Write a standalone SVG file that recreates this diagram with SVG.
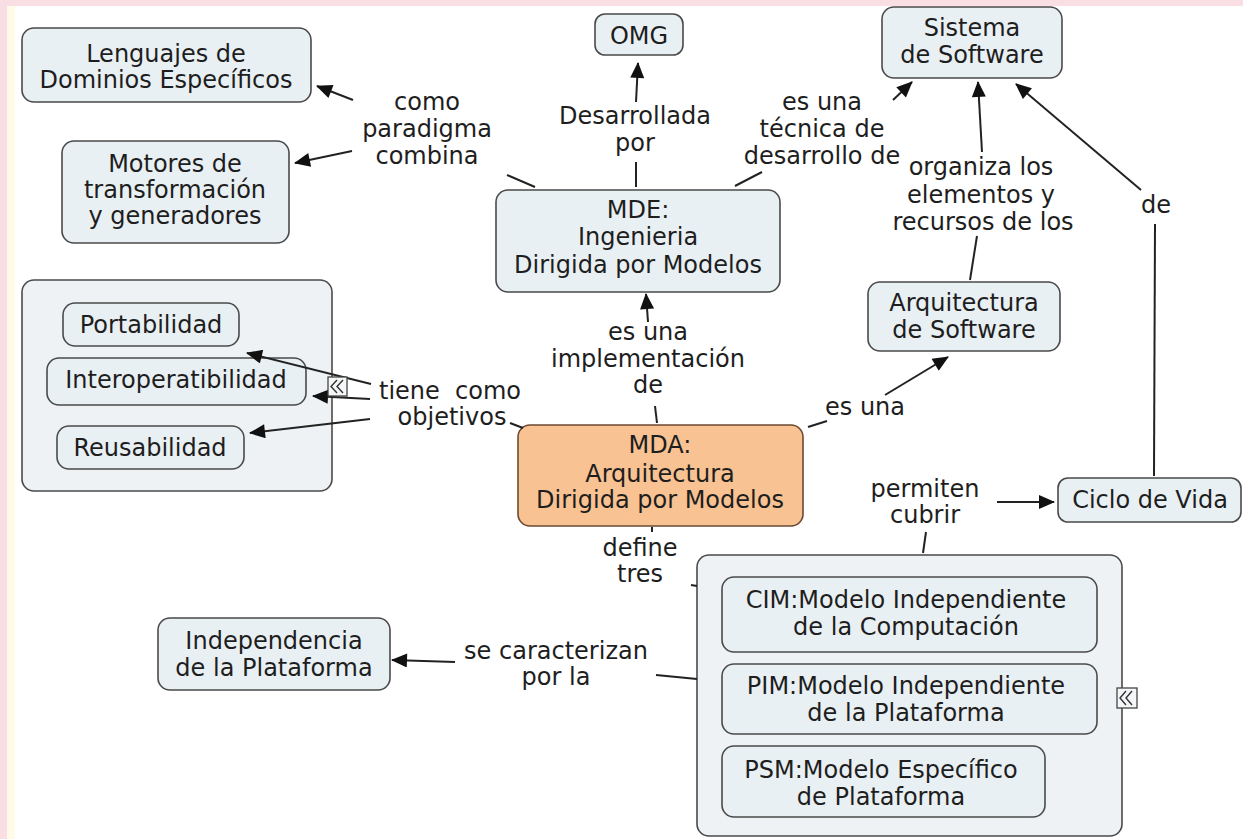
<svg xmlns="http://www.w3.org/2000/svg" width="1243" height="839" viewBox="0 0 1243 839">
<defs>
<style>
.n{fill:#e9f0f3;stroke:#4a4a4a;stroke-width:1.6}
.g{fill:#eef2f5;stroke:#4a4a4a;stroke-width:1.6}
.mda{fill:#f9c292;stroke:#6b4a30;stroke-width:1.6}
text{font-family:"DejaVu Sans","Verdana",sans-serif;font-size:24px;fill:#1e1e1e;text-anchor:middle}
.c line{stroke:#222;stroke-width:2}
.icon{fill:#f4f6f7;stroke:#444;stroke-width:1.3}
.chev{fill:none;stroke:#333;stroke-width:1.4}
</style>
<marker id="ah" viewBox="0 0 16 14" refX="15" refY="7" markerWidth="17" markerHeight="14" markerUnits="userSpaceOnUse" orient="auto">
<path d="M0,0 L16,7 L0,14 Z" fill="#111"/>
</marker>
</defs>
<rect x="0" y="0" width="1243" height="839" fill="#ffffff"/>
<rect x="0" y="0" width="1243" height="6" fill="#f9dfe3"/>
<rect x="0" y="0" width="7" height="839" fill="#f9dfe3"/>
<rect x="7" y="6" width="8" height="833" fill="#fffbe8"/>

<g id="lbl-como">
<text x="427" y="110">como</text>
<text x="427" y="137">paradigma</text>
<text x="427" y="164">combina</text>
</g>
<g id="lbl-desarrollada">
<text x="635" y="124">Desarrollada</text>
<text x="635" y="151">por</text>
</g>
<g id="lbl-tecnica">
<text x="822" y="110">es una</text>
<text x="822" y="137">técnica de</text>
<text x="822" y="164">desarrollo de</text>
</g>
<g id="lbl-organiza">
<text x="981" y="175">organiza los</text>
<text x="981" y="203">elementos y</text>
<text x="983" y="230">recursos de los</text>
</g>
<g id="lbl-de"><text x="1156" y="213">de</text></g>
<g id="lbl-implementacion">
<text x="648" y="340">es una</text>
<text x="648" y="367">implementación</text>
<text x="648" y="393">de</text>
</g>
<g id="lbl-objetivos">
<text x="450" y="399" xml:space="preserve">tiene  como</text>
<text x="452" y="425">objetivos</text>
</g>
<g id="lbl-esuna"><text x="865" y="415">es una</text></g>
<g id="lbl-permiten">
<text x="925" y="497">permiten</text>
<text x="925" y="523">cubrir</text>
</g>
<g id="lbl-define">
<text x="640" y="556">define</text>
<text x="640" y="582">tres</text>
</g>
<g id="lbl-caracterizan">
<text x="556" y="659">se caracterizan</text>
<text x="556" y="685">por la</text>
</g>

<g id="node-lenguajes">
<rect class="n" x="22" y="28" width="289" height="74" rx="12"/>
<text x="166" y="62">Lenguajes de</text>
<text x="166" y="88">Dominios Específicos</text>
</g>
<g id="node-motores">
<rect class="n" x="62" y="141" width="227" height="102" rx="12"/>
<text x="175" y="172">Motores de</text>
<text x="175" y="198">transformación</text>
<text x="175" y="224">y generadores</text>
</g>
<g id="node-omg">
<rect class="n" x="595" y="14" width="88" height="41" rx="10"/>
<text x="639" y="44">OMG</text>
</g>
<g id="node-mde">
<rect class="n" x="496" y="190" width="284" height="102" rx="12"/>
<text x="638" y="218">MDE:</text>
<text x="638" y="245">Ingenieria</text>
<text x="638" y="273">Dirigida por Modelos</text>
</g>
<g id="node-sistema">
<rect class="n" x="882" y="7" width="180" height="71" rx="12"/>
<text x="972" y="36">Sistema</text>
<text x="972" y="63">de Software</text>
</g>
<g id="node-arqsw">
<rect class="n" x="868" y="282" width="192" height="69" rx="12"/>
<text x="964" y="311">Arquitectura</text>
<text x="964" y="338">de Software</text>
</g>
<g id="node-ciclo">
<rect class="n" x="1058" y="478" width="183" height="44" rx="10"/>
<text x="1150" y="508">Ciclo de Vida</text>
</g>
<g id="node-objetivos">
<rect class="g" x="22" y="280" width="310" height="211" rx="12"/>
<g id="node-portabilidad">
<rect class="n" x="63" y="303" width="176" height="43" rx="12"/>
<text x="151" y="333">Portabilidad</text>
</g>
<g id="node-interop">
<rect class="n" x="47" y="358" width="259" height="47" rx="12"/>
<text x="176" y="388">Interoperatibilidad</text>
</g>
<g id="node-reusabilidad">
<rect class="n" x="57" y="426" width="187" height="43" rx="12"/>
<text x="150" y="456">Reusabilidad</text>
</g>
</g>
<g id="node-mda">
<rect class="mda" x="518" y="425" width="285" height="101" rx="12"/>
<text x="660" y="453">MDA:</text>
<text x="660" y="482">Arquitectura</text>
<text x="660" y="508">Dirigida por Modelos</text>
</g>
<g id="node-independencia">
<rect class="n" x="158" y="618" width="232" height="72" rx="12"/>
<text x="274" y="649">Independencia</text>
<text x="274" y="676">de la Plataforma</text>
</g>
<g id="node-modelos">
<rect class="g" x="697" y="555" width="425" height="281" rx="12"/>
<g id="node-cim">
<rect class="n" x="722" y="577" width="375" height="75" rx="12"/>
<text x="906" y="608">CIM:Modelo Independiente</text>
<text x="906" y="635">de la Computación</text>
</g>
<g id="node-pim">
<rect class="n" x="722" y="664" width="375" height="70" rx="12"/>
<text x="906" y="694">PIM:Modelo Independiente</text>
<text x="906" y="721">de la Plataforma</text>
</g>
<g id="node-psm">
<rect class="n" x="722" y="746" width="323" height="71" rx="12"/>
<text x="881" y="778">PSM:Modelo Específico</text>
<text x="881" y="805">de Plataforma</text>
</g>
<rect class="icon" x="1117" y="688" width="20" height="20"/>
<path class="chev" d="M1126,691 L1120,698 L1126,705 M1132,691 L1126,698 L1132,705"/>
</g>

<g id="connectors" class="c">
<line x1="353" y1="100" x2="317" y2="86" marker-end="url(#ah)"/>
<line x1="352" y1="151" x2="295" y2="163" marker-end="url(#ah)"/>
<line x1="535" y1="187" x2="507" y2="175"/>
<line x1="636" y1="187" x2="636" y2="162"/>
<line x1="636" y1="102" x2="638" y2="63" marker-end="url(#ah)"/>
<line x1="735" y1="186" x2="762" y2="172"/>
<line x1="893" y1="100" x2="912" y2="82" marker-end="url(#ah)"/>
<line x1="970" y1="280" x2="977" y2="236"/>
<line x1="982" y1="152" x2="978" y2="82" marker-end="url(#ah)"/>
<line x1="1154" y1="476" x2="1155" y2="224"/>
<line x1="1141" y1="190" x2="1016" y2="84" marker-end="url(#ah)"/>
<line x1="657" y1="423" x2="655" y2="406"/>
<line x1="648" y1="322" x2="646" y2="294" marker-end="url(#ah)"/>
<line x1="523" y1="428" x2="510" y2="423"/>
<line x1="371" y1="384" x2="247" y2="353" marker-end="url(#ah)"/>
<line x1="370" y1="399" x2="313" y2="396" marker-end="url(#ah)"/>
<line x1="370" y1="419" x2="250" y2="433" marker-end="url(#ah)"/>
<line x1="808" y1="427" x2="827" y2="421"/>
<line x1="885" y1="395" x2="948" y2="357" marker-end="url(#ah)"/>
<line x1="923" y1="553" x2="926" y2="532"/>
<line x1="997" y1="502" x2="1054" y2="502" marker-end="url(#ah)"/>
<line x1="652" y1="527" x2="652" y2="532"/>
<line x1="691" y1="585" x2="697" y2="586"/>
<line x1="697" y1="679" x2="656" y2="675"/>
<line x1="455" y1="662" x2="392" y2="660" marker-end="url(#ah)"/>
</g>
<g id="collapse-objetivos">
<rect class="icon" x="328" y="377" width="19" height="19"/>
<path class="chev" d="M337,380 L331,386.5 L337,393 M343,380 L337,386.5 L343,393"/>
</g>
</svg>
